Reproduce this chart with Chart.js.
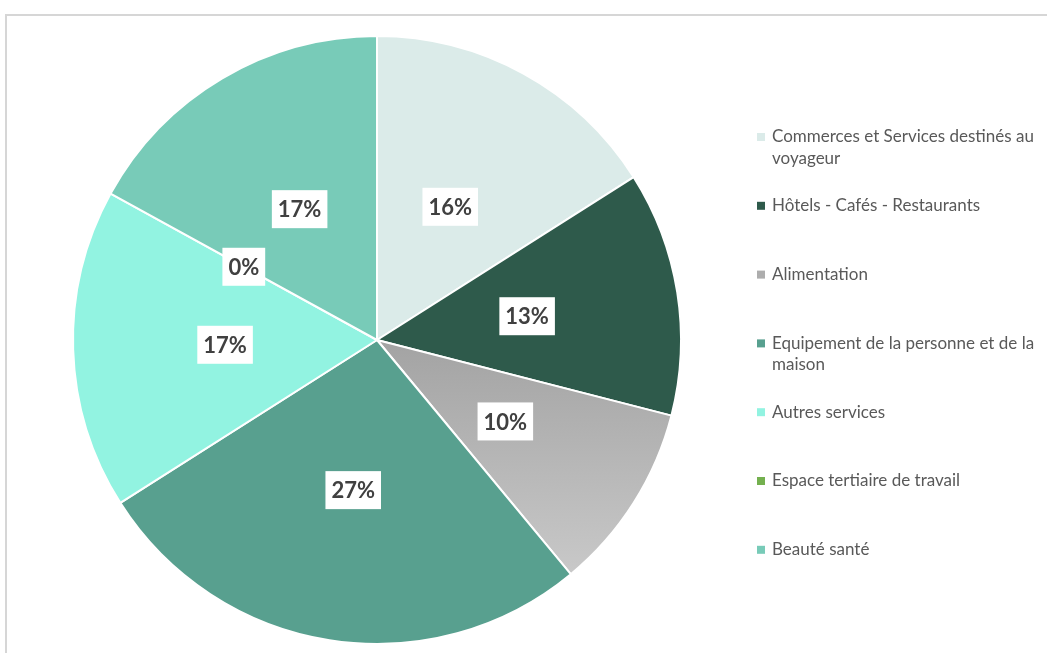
<!DOCTYPE html>
<html>
<head>
<meta charset="utf-8">
<script src="https://cdn.jsdelivr.net/npm/chart.js@4"></script>
<style>
  body { margin: 0; background: #fff; }
  #frame {
    position: absolute; left: 5px; top: 14px;
    width: 1100px; height: 700px;
    border-left: 2px solid #d6d6d6; border-top: 2px solid #d6d6d6;
  }
  #wrap { position: absolute; left: 0; top: 0; width: 1047px; height: 653px; }
</style>
</head>
<body>
<div id="frame"></div>
<div id="wrap"><canvas id="pie"></canvas></div>
<script>
// categories and values (%)
const categories = [
    ['Commerces et Services destinés au', 'voyageur'],
    ['Hôtels - Cafés - Restaurants'],
    ['Alimentation'],
    ['Equipement de la personne et de la', 'maison'],
    ['Autres services'],
    ['Espace tertiaire de travail'],
    ['Beauté santé']
];
const values = [16, 13, 10, 27, 17, 0, 17];
const colors = ['#dbebe9', '#2e5a4b', '#adadad', '#58a08f', '#92f3e1', '#74b04f', '#78cbb8'];

// couleur de la tranche Alimentation en dégradé comme dans l'original
function sliceColor(ctx) {
    const i = ctx.dataIndex;
    const chart = ctx.chart;
    if (i === 2 && chart.chartArea) {
        const g = chart.ctx.createLinearGradient(0, 340, 0, 590);
        g.addColorStop(0, '#a3a3a3');
        g.addColorStop(1, '#cbcbcb');
        return g;
    }
    return colors[i];
}

// étiquettes dans des cadres blancs
const labelPlugin = {
    id: 'boxLabels',
    afterDatasetsDraw(chart) {
        const ctx = chart.ctx;
        const meta = chart.getDatasetMeta(0);
        ctx.save();
        ctx.font = 'bold 22px Lato';
        ctx.textAlign = 'center';
        ctx.textBaseline = 'middle';
        meta.data.forEach((arc, i) => {
            const p = arc.tooltipPosition();
            const txt = values[i] + '%';
            const w = ctx.measureText(txt).width + 12;
            const h = 38;
            ctx.fillStyle = '#ffffff';
            ctx.fillRect(p.x - w / 2, p.y - h / 2, w, h);
            ctx.fillStyle = '#404040';
            ctx.fillText(txt, p.x, p.y + 1);
        });
        ctx.restore();
    }
};

// légende à droite (texte sur deux lignes)
const legendPlugin = {
    id: 'sideLegend',
    afterDraw(chart) {
        const ctx = chart.ctx;
        ctx.save();
        ctx.font = '17px Lato';
        ctx.textBaseline = 'middle';
        categories.forEach((lines, i) => {
            const y = 137 + i * 68.8;
            ctx.fillStyle = colors[i];
            ctx.fillRect(757, y - 4, 8, 8);
            ctx.fillStyle = '#595959';
            lines.forEach((t, k) => {
                ctx.fillText(t, 772, y + k * 21.5);
            });
        });
        ctx.restore();
    }
};

window.onload = () => {
    new Chart(document.getElementById('pie').getContext('2d'), {
        type: 'pie',
        data: {
            labels: categories.map(c => c.join(' ')),
            datasets: [{
                data: values,
                backgroundColor: sliceColor,
                borderColor: '#ffffff',
                borderWidth: 2
            }]
        },
        options: {
            responsive: true,
            maintainAspectRatio: false,
            animation: false,
            layout: { padding: { top: 35, bottom: 8, left: 72, right: 365 } },
            plugins: {
                legend: { display: false },
                tooltip: { enabled: false }
            }
        },
        plugins: [labelPlugin, legendPlugin]
    });
};
</script>
</body>
</html>
